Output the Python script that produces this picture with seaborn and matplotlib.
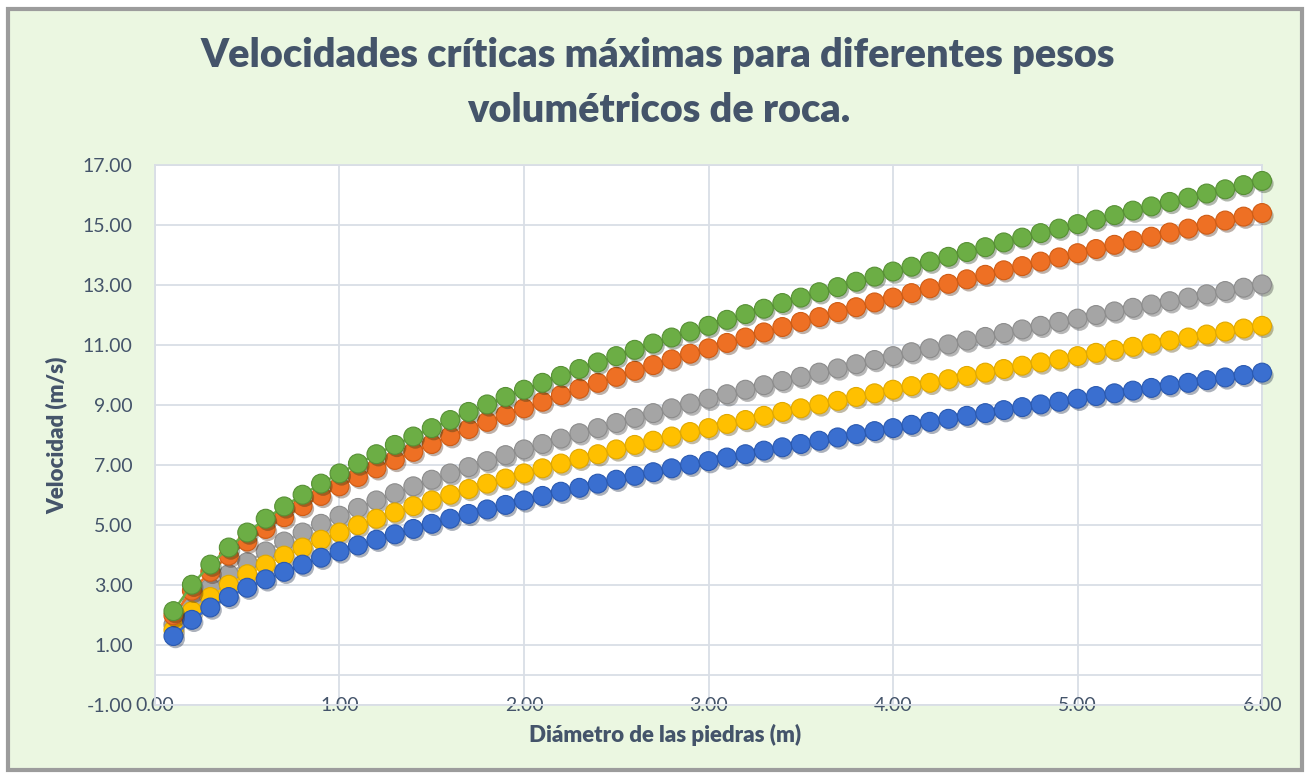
import pandas as pd
import matplotlib
matplotlib.use("Agg")
import matplotlib.pyplot as plt
import matplotlib.patheffects as pe
from matplotlib.patches import Rectangle
from matplotlib.ticker import FormatStrFormatter
import seaborn as sns

# diametro de las piedras (m)
diametro = [0.1, 0.2, 0.3, 0.4, 0.5, 0.6, 0.7, 0.8, 0.9, 1.0,
            1.1, 1.2, 1.3, 1.4, 1.5, 1.6, 1.7, 1.8, 1.9, 2.0,
            2.1, 2.2, 2.3, 2.4, 2.5, 2.6, 2.7, 2.8, 2.9, 3.0,
            3.1, 3.2, 3.3, 3.4, 3.5, 3.6, 3.7, 3.8, 3.9, 4.0,
            4.1, 4.2, 4.3, 4.4, 4.5, 4.6, 4.7, 4.8, 4.9, 5.0,
            5.1, 5.2, 5.3, 5.4, 5.5, 5.6, 5.7, 5.8, 5.9, 6.0]

v_azul = [1.30, 1.84, 2.25, 2.60, 2.91, 3.19, 3.44, 3.68, 3.91, 4.12,
          4.32, 4.51, 4.69, 4.87, 5.04, 5.21, 5.37, 5.52, 5.67, 5.82,
          5.97, 6.11, 6.24, 6.38, 6.51, 6.64, 6.76, 6.89, 7.01, 7.13,
          7.25, 7.36, 7.48, 7.59, 7.70, 7.81, 7.92, 8.03, 8.13, 8.23,
          8.34, 8.44, 8.54, 8.64, 8.73, 8.83, 8.93, 9.02, 9.11, 9.21,
          9.30, 9.39, 9.48, 9.57, 9.66, 9.74, 9.83, 9.92, 10.00, 10.08]

v_amarillo = [1.50, 2.13, 2.60, 3.01, 3.36, 3.68, 3.98, 4.25, 4.51, 4.75,
              4.99, 5.21, 5.42, 5.63, 5.82, 6.01, 6.20, 6.38, 6.55, 6.72,
              6.89, 7.05, 7.21, 7.36, 7.52, 7.67, 7.81, 7.95, 8.10, 8.23,
              8.37, 8.50, 8.64, 8.77, 8.89, 9.02, 9.14, 9.27, 9.39, 9.51,
              9.63, 9.74, 9.86, 9.97, 10.08, 10.20, 10.31, 10.42, 10.52, 10.63,
              10.74, 10.84, 10.94, 11.05, 11.15, 11.25, 11.35, 11.45, 11.55, 11.64]

v_gris = [1.68, 2.38, 2.91, 3.36, 3.76, 4.12, 4.45, 4.75, 5.04, 5.31,
          5.57, 5.82, 6.06, 6.29, 6.51, 6.72, 6.93, 7.13, 7.33, 7.52,
          7.70, 7.88, 8.06, 8.23, 8.40, 8.57, 8.73, 8.89, 9.05, 9.21,
          9.36, 9.51, 9.66, 9.80, 9.94, 10.08, 10.22, 10.36, 10.50, 10.63,
          10.76, 10.89, 11.02, 11.15, 11.27, 11.40, 11.52, 11.64, 11.77, 11.88,
          12.00, 12.12, 12.24, 12.35, 12.46, 12.58, 12.69, 12.80, 12.91, 13.02]

v_naranja = [1.99, 2.81, 3.44, 3.98, 4.45, 4.87, 5.26, 5.63, 5.97, 6.29,
             6.60, 6.89, 7.17, 7.44, 7.70, 7.96, 8.20, 8.44, 8.67, 8.89,
             9.11, 9.33, 9.54, 9.74, 9.94, 10.14, 10.33, 10.52, 10.71, 10.89,
             11.07, 11.25, 11.42, 11.60, 11.77, 11.93, 12.10, 12.26, 12.42, 12.58,
             12.73, 12.89, 13.04, 13.19, 13.34, 13.49, 13.63, 13.78, 13.92, 14.06,
             14.20, 14.34, 14.48, 14.61, 14.75, 14.88, 15.01, 15.15, 15.28, 15.40]

v_verde = [2.13, 3.01, 3.68, 4.25, 4.75, 5.21, 5.62, 6.01, 6.38, 6.72,
           7.05, 7.36, 7.67, 7.95, 8.23, 8.50, 8.77, 9.02, 9.27, 9.51,
           9.74, 9.97, 10.20, 10.42, 10.63, 10.84, 11.05, 11.25, 11.45, 11.64,
           11.84, 12.03, 12.21, 12.40, 12.58, 12.76, 12.93, 13.11, 13.28, 13.45,
           13.61, 13.78, 13.94, 14.10, 14.26, 14.42, 14.58, 14.73, 14.88, 15.03,
           15.18, 15.33, 15.48, 15.62, 15.77, 15.91, 16.05, 16.19, 16.33, 16.47]

series = ["gris", "amarillo", "azul", "naranja", "verde"]
valores = {"gris": v_gris, "amarillo": v_amarillo, "azul": v_azul,
           "naranja": v_naranja, "verde": v_verde}
colores = {"gris": ("#A5A5A5", "#8C8C8C"), "amarillo": ("#FFC000", "#E0A800"),
           "azul": ("#3A6FD0", "#2A59B0"), "naranja": ("#EE7024", "#CF5C15"),
           "verde": ("#6CAE45", "#579035")}

rows = []
for s in series:
    for d, v in zip(diametro, valores[s]):
        rows.append({"diametro": d, "velocidad": v, "serie": s})
df = pd.DataFrame(rows)

sns.set_theme(style="white")
plt.rcParams['font.family'] = ['Lato', 'DejaVu Sans']
txt = "#44546A"

fig = plt.figure(figsize=(13.1, 7.78), dpi=100)
fig.patch.set_facecolor("white")
fig.add_artist(Rectangle((0.006, 0.01), 0.988, 0.978, transform=fig.transFigure,
                         facecolor="#EBF7E1", edgecolor="#9C9C9C", lw=3, zorder=-5))

ax = fig.add_axes([0.1183, 0.0938, 0.8451, 0.6941])
ax.set_facecolor("white")

for i, s in enumerate(series):
    sub = df[df["serie"] == s]
    fc, ec = colores[s]
    sns.lineplot(data=sub, x="diametro", y="velocidad", color=fc, lw=1.8,
                 estimator=None, sort=False, ax=ax, zorder=3 + i * 2)
    sns.scatterplot(data=sub, x="diametro", y="velocidad", color=fc, s=185,
                    edgecolor=ec, linewidth=0.8, ax=ax, zorder=4 + i * 2,
                    clip_on=False,
                    path_effects=[pe.SimplePatchShadow(offset=(1.5, -2), alpha=0.35),
                                  pe.Normal()])

ax.set_xlim(0, 6)
ax.set_ylim(-1, 17)
ax.set_xticks(range(0, 7))
ax.set_yticks(range(-1, 18, 2))
ax.xaxis.set_major_formatter(FormatStrFormatter("%.2f"))
ax.yaxis.set_major_formatter(FormatStrFormatter("%.2f"))
ax.grid(True, color="#D9DEE6", lw=1.3, zorder=0)
ax.set_axisbelow(True)
ax.axhline(0, color="#D9DEE6", lw=1.3, zorder=1)
for sp in ax.spines.values():
    sp.set_color("#D9DEE6")
    sp.set_linewidth(1.3)
ax.tick_params(length=0, labelsize=14, labelcolor=txt)
ax.tick_params(axis="y", pad=16)
ax.tick_params(axis="x", pad=-6)
ax.set_xlabel("")
ax.set_ylabel("")

fig.text(0.502, 1 - 55 / 778, "Velocidades críticas máximas para diferentes pesos",
         ha="center", va="center", fontsize=28.5, fontweight="heavy", color=txt)
fig.text(0.503, 1 - 110 / 778, "volumétricos de roca.",
         ha="center", va="center", fontsize=28.5, fontweight="heavy", color=txt)
fig.text(57 / 1310, 1 - 435 / 778, "Velocidad (m/s)", rotation=90,
         ha="center", va="center", fontsize=16, fontweight="heavy", color=txt)
fig.text(665 / 1310, 1 - 735 / 778, "Diámetro de las piedras (m)",
         ha="center", va="center", fontsize=16, fontweight="heavy", color=txt)

fig.savefig("out.png", dpi=100, facecolor="white")
